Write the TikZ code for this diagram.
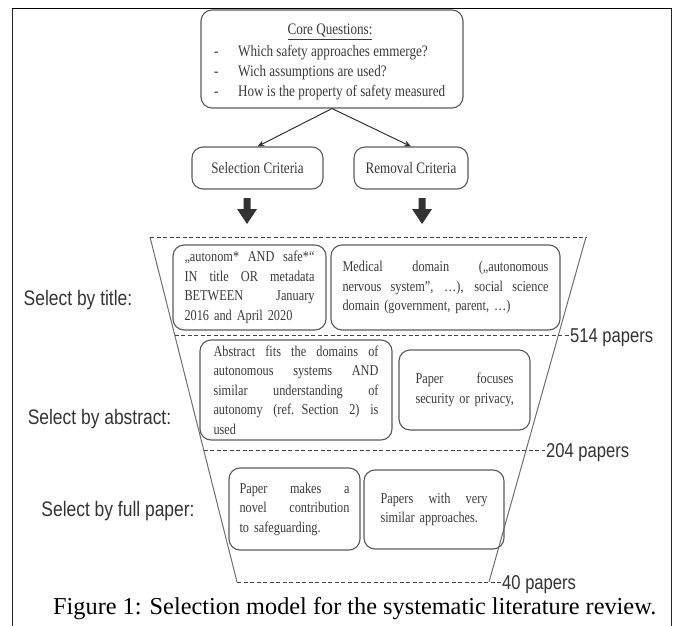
\documentclass[tikz,border=0pt]{standalone}
\usepackage{fontspec}
\setmainfont{Liberation Serif}
\newfontfamily\figserif[FakeStretch=0.82]{Liberation Serif}
\newfontfamily\figsans[FakeStretch=0.83]{Liberation Sans}
\usetikzlibrary{arrows.meta}
\definecolor{boxgray}{HTML}{5A5A5A}
\definecolor{txtgray}{HTML}{3A3A3A}
\definecolor{linegray}{HTML}{6E6E6E}
\definecolor{dashgray}{HTML}{444444}
\definecolor{arrowgray}{HTML}{333333}
\newcommand\jline[2]{{\spaceskip=0.2em plus 1fil\relax\makebox[#1][s]{#2}}}
\begin{document}
\begin{tikzpicture}[x=1pt,y=-1pt,
  rbox/.style={draw=boxgray, line width=1.1pt, rounded corners=11pt, inner sep=0pt,
    text=txtgray, font=\figserif\fontsize{15}{19.5}\selectfont},
  coretext/.style={inner sep=0pt, text=txtgray, font=\figserif\fontsize{16}{19}\selectfont},
  stagelabel/.style={inner sep=0pt, text=arrowgray, font=\figsans\fontsize{21}{25}\selectfont, anchor=base},
  cnt/.style={inner sep=0pt, text=arrowgray, font=\figsans\fontsize{20}{24}\selectfont, anchor=base west},
  side/.style={draw=linegray, line width=1pt},
  dline/.style={draw=dashgray, line width=1pt, dash pattern=on 4pt off 2.5pt},
  conn/.style={draw=arrowgray, line width=1pt, -{Stealth[length=7pt,width=6pt]}},
  blockarrow/.style={fill=arrowgray}
]
\useasboundingbox (0,0) rectangle (681,626);

% frame
\draw[draw=black!85, line width=1.3pt] (12.5,626) -- (12.5,8.5);
\draw[draw=black!85, line width=1.3pt] (671.5,626) -- (671.5,8.5);
\draw[draw=black, line width=1.8pt] (11.6,8.5) -- (672.4,8.5);

% core questions
\node[rbox, minimum width=262pt, minimum height=98pt] (core) at (332,59) {};
\node[coretext, anchor=base] (ct) at (330,35) {\underline{Core Questions:}};
\node[coretext, anchor=base west] (d1) at (214,57) {-};
\node[coretext, anchor=base west] (q1) at (238,57) {Which safety approaches emmerge?};
\node[coretext, anchor=base west] (d2) at (214,77) {-};
\node[coretext, anchor=base west] (q2) at (238,77) {Wich assumptions are used?};
\node[coretext, anchor=base west] (d3) at (214,97) {-};
\node[coretext, anchor=base west] (q3) at (238,97) {How is the property of safety measured};

% criteria
\node[rbox, minimum width=131pt, minimum height=42pt, font=\figserif\fontsize{16}{19}\selectfont] (sel) at (257.5,168) {Selection Criteria};
\node[rbox, minimum width=114pt, minimum height=42pt, font=\figserif\fontsize{16}{19}\selectfont] (rem) at (411,168) {Removal Criteria};
\draw[conn] (core.south) -- (sel.north);
\draw[conn] (core.south) -- (rem.north);

% block arrows
\coordinate (selarr) at (247,198);
\coordinate (remarr) at (422,198);
\fill[blockarrow] (selarr) ++(-3.5,0) -- ++(7,0) -- ++(0,11) -- ++(6.5,0) -- ++(-10,15) -- ++(-10,-15) -- ++(6.5,0) -- cycle;
\fill[blockarrow] (remarr) ++(-3.5,0) -- ++(7,0) -- ++(0,11) -- ++(6.5,0) -- ++(-10,15) -- ++(-10,-15) -- ++(6.5,0) -- cycle;

% funnel
\coordinate (TL) at (150,237);
\coordinate (TR) at (586,237);
\coordinate (BL) at (237,582);
\coordinate (BR) at (489,582);
\coordinate (L1) at (174.7,335);
\coordinate (L2) at (203.7,450);
\draw[side] (TL) -- (BL);
\draw[side] (TR) -- (BR);
\draw[dline] (TL) -- (TR);

\node[cnt] (n514) at (570,342) {514 papers};
\node[cnt] (n204) at (546,457) {204 papers};
\node[cnt] (n40) at (502,589) {40 papers};
\draw[dline, shorten >=1.5pt] (L1) -- (L1 -| n514.west);
\draw[dline, shorten >=1.5pt] (L2) -- (L2 -| n204.west);
\draw[dline, shorten >=1.5pt] (BL) -- (BL -| n40.west);

% stage labels
\node[stagelabel] (s1) at (78,305) {Select by title:};
\node[stagelabel] (s2) at (99.5,424) {Select by abstract:};
\node[stagelabel] (s3) at (118,516) {Select by full paper:};

% stage 1 boxes
\node[rbox, minimum width=153pt, minimum height=85pt, text width=130pt, align=left] (b1) at (249.5,287.5)
  {\jline{130pt}{„autonom* AND safe*“}\\\jline{130pt}{IN title OR metadata}\\\jline{130pt}{BETWEEN January}\\\mbox{2016 and April 2020}};
\node[rbox, minimum width=229pt, minimum height=85pt, text width=206pt, align=left] (b2) at (445.5,287.5)
  {\jline{206pt}{Medical domain („autonomous}\\\jline{206pt}{nervous system”, …), social science}\\\mbox{domain (government, parent, …)}};

% stage 2 boxes
\node[rbox, minimum width=192pt, minimum height=100pt, text width=165pt, align=left] (b3) at (296,390)
  {\jline{165pt}{Abstract fits the domains of}\\\jline{165pt}{autonomous systems AND}\\\jline{165pt}{similar understanding of}\\\jline{165pt}{autonomy (ref. Section 2) is}\\\mbox{used}};
\node[rbox, minimum width=131pt, minimum height=80pt, text width=98pt, align=left] (b4) at (464.5,390)
  {\jline{98pt}{Paper focuses}\\\mbox{security or privacy,}};

% stage 3 boxes
\node[rbox, minimum width=131pt, minimum height=82pt, text width=110pt, align=left] (b5) at (294.5,509)
  {\jline{110pt}{Paper makes a}\\\jline{110pt}{novel contribution}\\\mbox{to safeguarding.}};
\node[rbox, minimum width=140pt, minimum height=79pt, text width=107pt, align=left] (b6) at (434,509.5)
  {\jline{107pt}{Papers with very}\\\mbox{similar approaches.}};

% caption
\node[inner sep=0pt, anchor=base west, font=\fontsize{24.3}{28}\selectfont] (cap) at (53,614)
  {Figure 1: Selection model for the systematic literature review.};
\end{tikzpicture}
\end{document}
